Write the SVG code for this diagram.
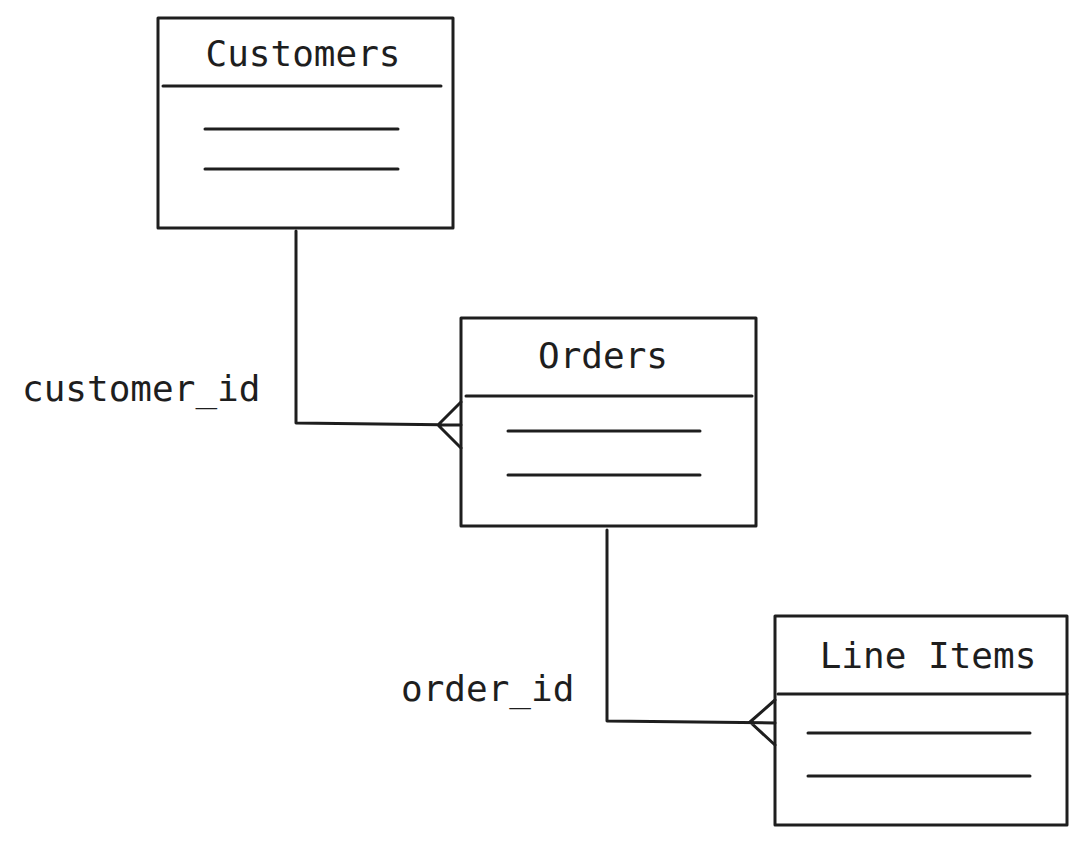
<svg xmlns="http://www.w3.org/2000/svg" width="1087" height="844" viewBox="0 0 1087 844">
<style>
.b{fill:none;stroke:#1e1e1e;stroke-width:3;stroke-linecap:round;stroke-linejoin:round}
.t{font-family:"DejaVu Sans Mono","Liberation Mono",monospace;font-size:36px;fill:#1e1e1e}
</style>
<rect width="1087" height="844" fill="#fff"/>
<g id="customers">
<rect class="b" x="158" y="18" width="295" height="210"/>
<path class="b" d="M163 86H441M205 129H398M205 169H398"/>
<text class="t" x="303" y="66" text-anchor="middle">Customers</text>
</g>
<g id="orders">
<rect class="b" x="461" y="318" width="295" height="208"/>
<path class="b" d="M466 396H752M508 431H700M508 475H700"/>
<text class="t" x="603" y="368" text-anchor="middle">Orders</text>
</g>
<g id="lineitems">
<rect class="b" x="775" y="616" width="292" height="209"/>
<path class="b" d="M778 694H1067M808 733H1030M808 776H1030"/>
<text class="t" x="928" y="668" text-anchor="middle">Line Items</text>
</g>
<g id="connectors">
<path class="b" d="M296 231V423L461 425M461 402L438 425L461 448"/>
<path class="b" d="M607 530V721L775 723M775 700L750 722L775 745"/>
<text class="t" x="22" y="401">customer_id</text>
<text class="t" x="401" y="701">order_id</text>
</g>
</svg>
